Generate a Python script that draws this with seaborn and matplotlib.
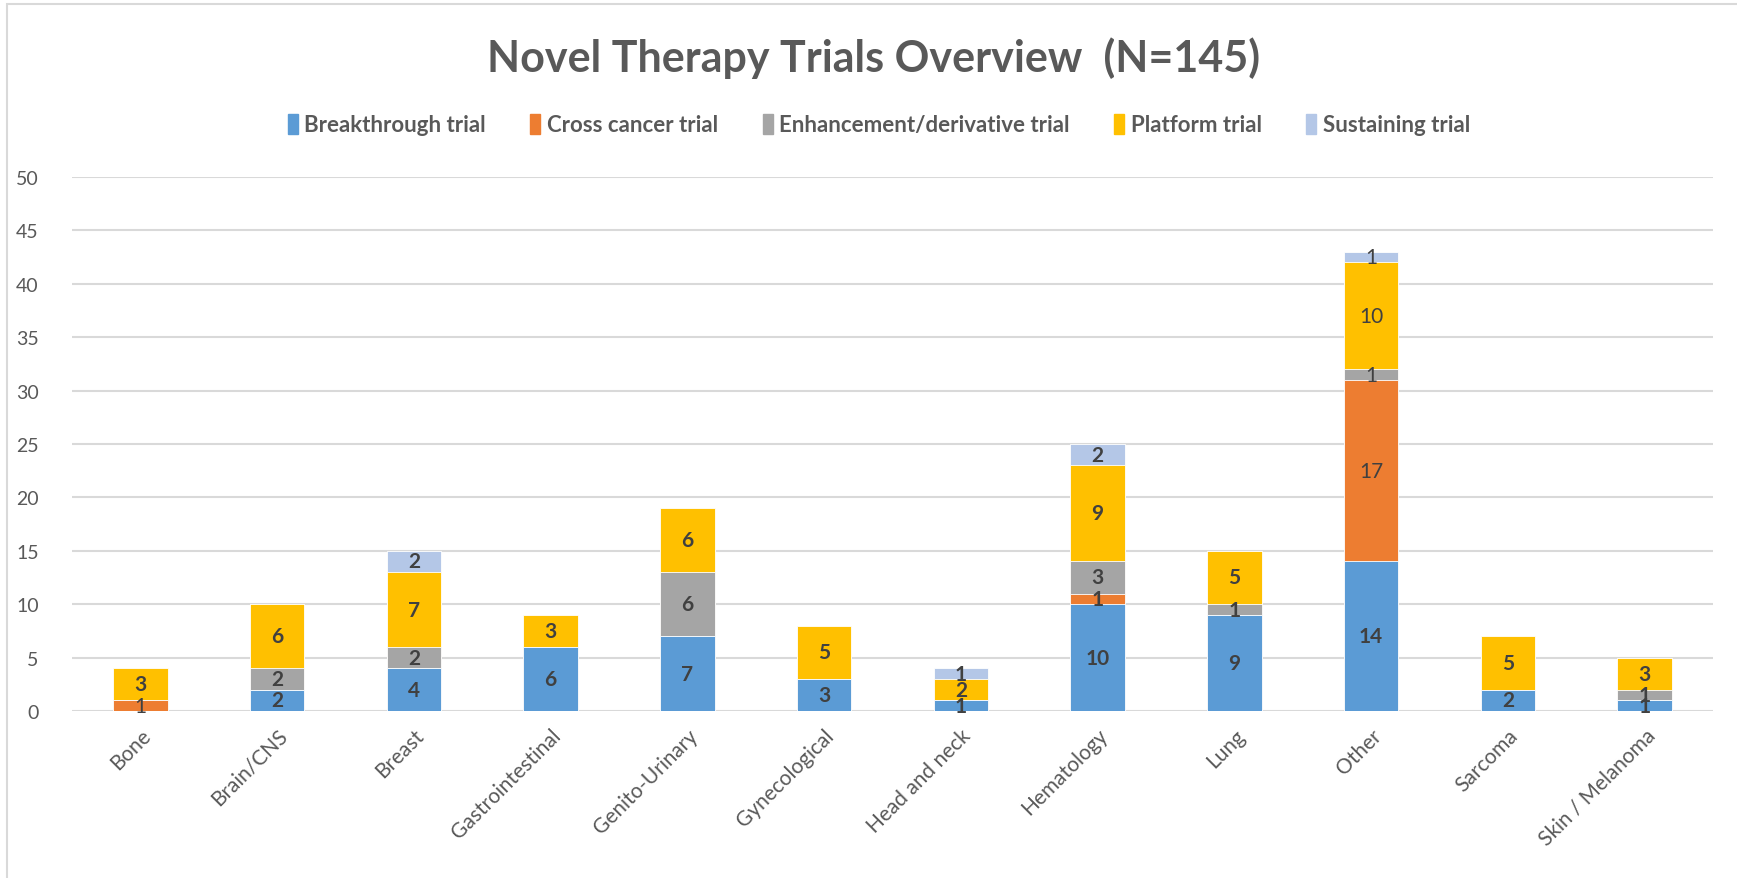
import numpy as np
import pandas as pd
import matplotlib
matplotlib.use("Agg")
import matplotlib.pyplot as plt
import matplotlib.patches as mpatches
import seaborn as sns

sns.set_style("white")
plt.rcParams['font.family'] = ['Lato', 'DejaVu Sans']

categories = ["Bone", "Brain/CNS", "Breast", "Gastrointestinal", "Genito-Urinary",
              "Gynecological", "Head and neck", "Hematology", "Lung", "Other",
              "Sarcoma", "Skin / Melanoma"]
breakthrough = [0, 2, 4, 6, 7, 3, 1, 10, 9, 14, 2, 1]
cross_cancer = [1, 0, 0, 0, 0, 0, 0, 1, 0, 17, 0, 0]
enhancement = [0, 2, 2, 0, 6, 0, 0, 3, 1, 1, 0, 1]
platform = [3, 6, 7, 3, 6, 5, 2, 9, 5, 10, 5, 3]
sustaining = [0, 0, 2, 0, 0, 0, 1, 2, 0, 1, 0, 0]

series_names = ["Breakthrough trial", "Cross cancer trial", "Enhancement/derivative trial",
                "Platform trial", "Sustaining trial"]
colors = ["#5B9BD5", "#ED7D31", "#A5A5A5", "#FFC000", "#B4C7E7"]

# labels drawn in regular weight (the rest are bold)
regular_labels = {(0, 1), (9, 1), (9, 2), (9, 3), (9, 4)}

df = pd.DataFrame({"Category": categories,
                   series_names[0]: breakthrough,
                   series_names[1]: cross_cancer,
                   series_names[2]: enhancement,
                   series_names[3]: platform,
                   series_names[4]: sustaining})
vals = df[series_names].to_numpy()
cum = vals.cumsum(axis=1)

fig = plt.figure(figsize=(17.37, 8.79), dpi=100)
ax = fig.add_axes([72 / 1737, 1 - 712 / 879, (1713 - 72) / 1737, (712 - 178) / 879])

# stacked bars: draw cumulative totals from the top layer down
for i in range(len(series_names) - 1, -1, -1):
    sns.barplot(x=df["Category"], y=cum[:, i], color=colors[i], saturation=1,
                width=0.4, errorbar=None, edgecolor="white", linewidth=0.6,
                ax=ax, zorder=3)

for j in range(len(categories)):
    for i in range(len(series_names)):
        v = vals[j, i]
        if v <= 0:
            continue
        w = "normal" if (j, i) in regular_labels else "bold"
        ax.text(j, cum[j, i] - v / 2, str(v), ha="center", va="center",
                fontsize=15, fontweight=w, color="#404040", zorder=5)

ax.set_ylim(0, 50)
ax.set_xlim(-0.5, len(categories) - 0.5)
ax.set_yticks(range(0, 51, 5))
ax.yaxis.grid(True, color="#D9D9D9", linewidth=1.5, zorder=0)
ax.set_axisbelow(True)
for s in ax.spines.values():
    s.set_visible(False)
ax.set_xlabel("")
ax.set_ylabel("")
ax.tick_params(axis="both", length=0, labelsize=14, colors="#595959")
ax.tick_params(axis="y", pad=24)
ax.set_xticks(range(len(categories)))
ax.set_xticklabels(categories, rotation=45, ha="right", rotation_mode="anchor", fontsize=15)
ax.tick_params(axis="x", pad=10)

fig.text(0.503, 0.934, "Novel Therapy Trials Overview  (N=145)", ha="center", va="center",
         fontsize=31, fontweight="bold", color="#595959")

handles = [mpatches.Patch(color=c, label=n) for c, n in zip(colors, series_names)]
leg = fig.legend(handles=handles, loc="center", bbox_to_anchor=(0.506, 0.857), ncol=5,
                 frameon=False, fontsize=16, handlelength=0.45, handleheight=1.0,
                 handletextpad=0.3, columnspacing=2.0)
for t in leg.get_texts():
    t.set_color("#595959")
    t.set_fontweight("bold")

# chart area border
fig.patches.append(mpatches.Rectangle((7 / 1737, -0.01), 1.02, 1 - 5 / 879 + 0.01,
                                      transform=fig.transFigure, fill=False,
                                      edgecolor="#D9D9D9", linewidth=1.5))

fig.savefig("out.png", dpi=100)
